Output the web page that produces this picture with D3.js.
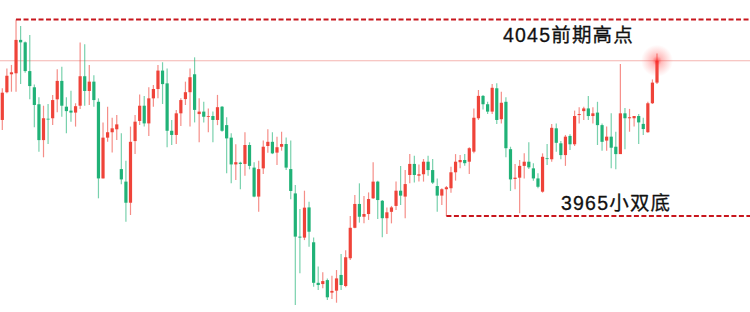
<meta charset="utf-8">
<style>
    body { margin: 0; background: #fff; }
    svg { display: block; }
    .label { font-family: "Liberation Sans", "Noto Sans CJK SC", sans-serif; font-size: 19.5px; fill: #111; stroke: #111; stroke-width: 0.3px; letter-spacing: 1.2px; }
</style>
<body>
    <script src="https://d3js.org/d3.v7.min.js"></script>
    <script type="text/javascript">

        var width  = 750,
            height = 312;

        // OHLC per candle, oldest first
        var open = [4004.1,4015.4,4022.7,4023.1,4036.7,4035.7,4024.0,4017.4,4010.5,3995.9,4004.6,4004.8,4012.5,4020.0,4009.5,4007.9,4007.1,4009.9,4021.9,4015.9,
            4019.7,4011.5,3980.3,3996.9,3999.1,4000.3,3984.1,3979.0,3970.4,3995.5,4003.7,4009.9,4002.7,4012.9,4016.7,4024.2,4019.0,3999.7,3998.0,4006.8,
            4012.6,4015.4,4022.7,4006.5,4007.5,4005.4,4005.7,4004.1,4009.5,4002.0,3996.9,3986.0,3986.7,3986.2,3993.9,3984.7,3972.9,3984.4,3993.5,3995.2,
            3990.8,3993.2,3994.3,3984.1,3974.2,3956.6,3956.2,3968.5,3954.3,3937.8,3937.3,3938.9,3933.8,3934.6,3941.0,3936.5,3947.8,3960.2,3969.9,3964.7,
            3965.8,3972.2,3979.0,3971.2,3964.1,3966.7,3969.1,3975.3,3972.9,3981.7,3986.2,3981.4,3982.0,3987.1,3983.7,3977.2,3973.3,3975.9,3976.3,3982.8,
            3986.9,3987.8,3987.1,3991.2,4004.8,4013.9,4010.5,4007.5,4017.0,4004.4,4011.5,3992.2,3980.1,3980.6,3985.4,3987.1,3984.4,3980.3,3974.9,3988.5,
            3988.1,4000.7,3994.6,3989.8,3997.6,3994.2,4006.1,4007.7,4008.8,4005.7,4007.1,4002.0,3995.7,3997.3,3993.2,3990.2,4006.8,4004.8,4004.8,4005.7,
            4002.5,3999.1,4010.9,4019.3];

        var high = [4017.0,4025.1,4026.5,4045.0,4042.4,4036.0,4038.7,4018.5,4013.3,4009.9,4010.6,4014.3,4024.7,4025.8,4013.3,4016.0,4010.9,4035.6,4034.9,4026.5,
            4022.3,4012.9,4003.1,4009.5,4005.0,4006.1,3998.7,3987.5,4001.4,4006.1,4014.5,4013.9,4017.4,4018.3,4026.5,4027.6,4025.1,4004.1,4008.2,4012.9,
            4019.7,4025.1,4029.6,4012.9,4011.5,4008.8,4007.5,4014.3,4009.8,4005.2,3998.7,3994.2,3987.1,3999.1,3995.0,3986.9,3987.5,3995.7,4000.3,3999.1,
            3997.3,3999.3,3997.0,3995.7,3977.6,3967.8,3975.3,3970.8,3956.2,3944.4,3942.1,3939.6,3940.7,3943.0,3949.5,3951.1,3965.0,3973.5,3978.3,3973.1,
            3974.6,3986.9,3979.4,3971.5,3968.5,3969.1,3979.0,3985.4,3983.7,3990.2,3989.5,3986.0,3988.2,3989.5,3988.2,3980.3,3976.3,3977.2,3985.1,3990.2,
            3989.8,3990.2,3993.0,4008.8,4016.3,4014.3,4011.5,4018.7,4019.0,4015.6,4013.3,3993.2,3986.2,3987.8,3990.5,3995.0,3986.5,3982.4,3990.5,3994.3,
            4002.5,4002.7,3995.5,3998.0,3998.3,4007.9,4009.3,4009.5,4013.9,4009.3,4011.5,4002.7,4001.4,4006.8,3999.3,4026.9,4009.0,4008.6,4005.7,4006.5,
            4005.0,4011.5,4020.6,4031.2];

        var low = [4000.0,4015.0,4015.6,4015.6,4018.7,4023.3,4012.5,4001.1,3991.2,3988.9,3994.3,4002.0,4007.2,4005.4,3998.7,4003.4,4001.4,4008.6,4009.9,4010.2,
            4009.5,3972.2,3980.3,3995.2,3990.9,3995.9,3977.9,3962.7,3965.4,3990.2,4002.0,4001.4,3997.6,4009.5,4012.9,4010.6,3993.0,3993.9,3994.3,4001.6,
            4010.2,4001.4,4003.1,3995.0,4003.1,3999.1,3995.0,4002.0,3999.3,3982.4,3978.3,3979.7,3975.9,3981.4,3984.0,3972.6,3966.7,3982.1,3990.8,3990.2,
            3985.8,3991.6,3983.7,3971.8,3928.8,3941.7,3955.2,3952.5,3936.2,3934.9,3935.6,3930.8,3931.2,3929.7,3934.9,3936.0,3947.1,3960.0,3962.3,3962.0,
            3963.4,3971.9,3963.8,3956.3,3957.7,3962.0,3967.4,3969.5,3964.1,3978.3,3978.6,3979.0,3979.0,3981.4,3978.0,3966.7,3969.5,3965.0,3974.5,3979.4,
            3984.4,3985.5,3982.1,3990.5,4004.1,4008.4,4006.5,4006.5,4002.5,4002.7,3988.9,3975.2,3975.9,3966.1,3980.3,3984.1,3979.4,3976.3,3974.5,3985.8,
            3987.1,3991.2,3988.1,3985.4,3991.9,3993.5,4002.7,4004.1,4004.1,4002.7,3993.9,3991.6,3991.6,3984.4,3984.0,3990.2,3992.2,3999.3,4001.4,3994.3,
            3998.0,3998.9,4010.6,4018.7];

        var close = [4015.2,4022.1,4023.5,4036.7,4035.7,4024.0,4017.9,4010.2,3995.9,4004.8,4004.4,4012.2,4020.0,4009.9,4007.7,4007.1,4009.7,4021.9,4015.9,4019.7,
            4012.2,3980.3,3996.9,3999.1,4000.7,4002.3,3979.9,3970.4,3995.2,4003.4,4009.9,4002.7,4012.9,4016.7,4024.2,4018.7,3999.7,3998.0,4006.8,4012.2,
            4015.4,4021.5,4008.2,4007.5,4005.4,4005.7,4004.1,4009.3,3999.7,3996.6,3986.0,3986.9,3986.2,3993.9,3985.4,3972.9,3984.1,3993.2,3995.2,3990.5,
            3993.0,3994.3,3984.7,3975.2,3956.6,3956.2,3968.4,3958.6,3937.8,3936.9,3938.5,3931.9,3934.5,3939.6,3936.9,3948.2,3960.2,3969.9,3964.7,3965.8,
            3971.9,3979.0,3971.5,3964.1,3966.5,3968.5,3975.3,3973.3,3978.0,3986.2,3981.7,3982.0,3987.1,3983.7,3978.6,3973.3,3975.9,3976.7,3982.8,3987.1,
            3987.8,3986.5,3992.6,4005.0,4013.9,4010.5,4007.5,4017.2,4004.1,4011.1,3992.6,3979.9,3980.6,3985.4,3987.1,3984.8,3980.3,3976.9,3989.1,3988.2,
            4000.9,3994.8,3989.8,3997.3,3994.2,4005.7,4006.5,4008.8,4005.7,4006.8,4002.0,3995.2,3997.3,3992.8,3990.2,4006.8,4004.8,4005.2,4005.7,4003.1,
            4000.4,4010.9,4019.3,4028.2];

        // marked levels: [price, index of candle where the line starts, label]
        var levels = [
            {price: 4045, from: 3,  label: "4045前期高点"},
            {price: 3965, from: 97, label: "3965小双底"}
        ];

        var candles = open.map(function (o, i) {
            return {i: i, o: o, h: high[i], l: low[i], c: close[i]};
        });

        var upColor   = "#ef4339",
            downColor = "#20b277";

        var x = d3.scaleLinear()
                  .domain([0, candles.length - 1])
                  .range([2.3, 657]);

        var y = d3.scaleLinear()
                  .domain([3965, 4045])
                  .range([216, 19.5]);

        var svg = d3.select("body")
                    .append("svg")
                    .attr("width", width)
                    .attr("height", height);

        var defs = svg.append("defs");
        var glow = defs.append("radialGradient").attr("id", "glow");
        glow.append("stop").attr("offset", "0%").attr("stop-color", "#ff2020").attr("stop-opacity", 0.75);
        glow.append("stop").attr("offset", "30%").attr("stop-color", "#ff4040").attr("stop-opacity", 0.35);
        glow.append("stop").attr("offset", "100%").attr("stop-color", "#ff6060").attr("stop-opacity", 0);

        var last = candles[candles.length - 1];

        // last price line
        svg.append("line")
           .attr("x1", 0).attr("x2", width)
           .attr("y1", y(last.c)).attr("y2", y(last.c))
           .attr("stroke", "#f4b4b0")
           .attr("stroke-width", 1.2);

        var g = svg.selectAll(".candle")
                   .data(candles)
                   .enter()
                   .append("g")
                   .attr("class", "candle");

        g.append("line")
         .attr("x1", function (d) { return x(d.i); })
         .attr("x2", function (d) { return x(d.i); })
         .attr("y1", function (d) { return y(d.h); })
         .attr("y2", function (d) { return y(d.l); })
         .attr("stroke", function (d) { return d.c >= d.o ? upColor : downColor; })
         .attr("stroke-opacity", 0.6)
         .attr("stroke-width", 1.2);

        g.append("rect")
         .attr("x", function (d) { return x(d.i) - 1.6; })
         .attr("width", 3.2)
         .attr("y", function (d) { return y(Math.max(d.o, d.c)); })
         .attr("height", function (d) { return Math.max(0.8, Math.abs(y(d.o) - y(d.c))); })
         .attr("fill", function (d) { return d.c >= d.o ? upColor : downColor; });

        // key levels
        svg.selectAll(".level")
           .data(levels)
           .enter()
           .append("line")
           .attr("class", "level")
           .attr("x1", function (d) { return x(d.from); })
           .attr("x2", width)
           .attr("y1", function (d) { return y(d.price); })
           .attr("y2", function (d) { return y(d.price); })
           .attr("stroke", "#c8161d")
           .attr("stroke-width", 2)
           .attr("stroke-dasharray", "5,2.5");

        svg.append("text")
           .attr("class", "label")
           .attr("x", 503)
           .attr("y", y(levels[0].price) + 22)
           .text(levels[0].label);

        svg.append("text")
           .attr("class", "label")
           .attr("x", 561)
           .attr("y", y(levels[1].price) - 6)
           .text(levels[1].label);

        // glow on the latest price
        svg.append("circle")
           .attr("cx", x(last.i))
           .attr("cy", y(last.c))
           .attr("r", 16)
           .attr("fill", "url(#glow)");

    </script>
</body>
